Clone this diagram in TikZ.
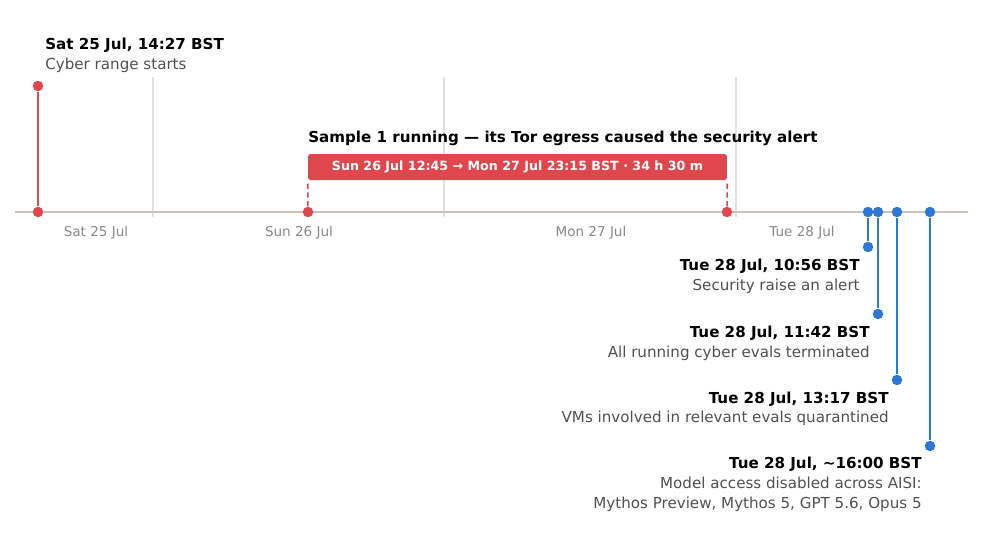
\documentclass[tikz,border=0pt]{standalone}
\usepackage{fontspec}
\setmainfont{DejaVu Sans}
\definecolor{alertred}{HTML}{E0474C}
\definecolor{evblue}{HTML}{2D77D6}
\definecolor{axisgray}{HTML}{C8C4B8}
\definecolor{gridgray}{HTML}{E2E0DA}
\definecolor{desctext}{HTML}{505050}
\definecolor{ticktext}{HTML}{888888}

\begin{document}
\begin{tikzpicture}[x=0.02cm,y=-0.02cm,
  evdot/.style={circle,inner sep=0pt,minimum size=0.21cm,fill=#1},
  stem/.style={line width=1.1pt,#1},
  head/.style={inner sep=0pt,font=\fontsize{8.6}{10}\selectfont\bfseries,text=black},
  desc/.style={inner sep=0pt,font=\fontsize{8.6}{11.35}\selectfont,text=desctext},
  daylbl/.style={inner sep=0pt,anchor=base,font=\fontsize{7.7}{9}\selectfont,text=ticktext},
  gridline/.style={gridgray,line width=0.6pt}]
\useasboundingbox (0,0) rectangle (1000,548);
\draw [gridline] (153,77) -- (153,217);
\draw [gridline] (444,77) -- (444,217);
\draw [gridline] (736,77) -- (736,217);
\draw [axisgray,line width=1.2pt] (15,212) -- (968,212);
\node[daylbl] (sat) at (96,236) {Sat 25 Jul};
\node[daylbl] (sun) at (299,236) {Sun 26 Jul};
\node[daylbl] (mon) at (591,236) {Mon 27 Jul};
\node[daylbl] (tue) at (802,236) {Tue 28 Jul};
\node[evdot=alertred] (r0) at (38,212) {};
\node[evdot=alertred] (r0top) at (38,86) {};
\draw [stem=alertred] (r0) -- (r0top);
\node[head,anchor=base west] (r0t) at (45,49) {Sat 25 Jul, 14:27 BST};
\node[desc,anchor=base west] (r0d) at (45,69) {Cyber range starts};
\node[fill=alertred,rounded corners=1.5pt,inner sep=0pt,minimum width=8.38cm,minimum height=0.52cm,
  text=white,font=\fontsize{7.2}{9}\selectfont\bfseries] (run) at (517.5,167) {Sun 26 Jul 12:45 → Mon 27 Jul 23:15 BST · 34 h 30 m};
\node[head,anchor=base west] (runt) at (308,142.5) {Sample 1 running — its Tor egress caused the security alert};
\node[evdot=alertred] (r1) at (308,212) {};
\node[evdot=alertred] (r2) at (727,212) {};
\draw [alertred,line width=0.9pt,dash pattern=on 3pt off 2pt] (r1) -- (run.south west);
\draw [alertred,line width=0.9pt,dash pattern=on 3pt off 2pt] (r2) -- (run.south east);
\node[evdot=evblue] (b1) at (868,212) {};
\node[evdot=evblue] (b1e) at (868,247) {};
\node[evdot=evblue] (b2) at (878,212) {};
\node[evdot=evblue] (b2e) at (878,314) {};
\node[evdot=evblue] (b3) at (897,212) {};
\node[evdot=evblue] (b3e) at (897,380) {};
\node[evdot=evblue] (b4) at (930,212) {};
\node[evdot=evblue] (b4e) at (930,446) {};
\draw [stem=evblue] (b1) -- (b1e);
\draw [stem=evblue] (b2) -- (b2e);
\draw [stem=evblue] (b3) -- (b3e);
\draw [stem=evblue] (b4) -- (b4e);
\node[head,anchor=base east] (b1t) at (860,270) {Tue 28 Jul, 10:56 BST};
\node[desc,anchor=base east] (b1d) at (860,290.5) {Security raise an alert};
\node[head,anchor=base east] (b2t) at (870,337) {Tue 28 Jul, 11:42 BST};
\node[desc,anchor=base east] (b2d) at (870,357) {All running cyber evals terminated};
\node[head,anchor=base east] (b3t) at (889,403) {Tue 28 Jul, 13:17 BST};
\node[desc,anchor=base east] (b3d) at (889,422.5) {VMs involved in relevant evals quarantined};
\node[head,anchor=base east] (b4t) at (922,468.5) {Tue 28 Jul, \textasciitilde16:00 BST};
\node[desc,anchor=base east,align=right] (b4d) at (922,508.5) {Model access disabled across AISI:\\Mythos Preview, Mythos 5, GPT 5.6, Opus 5};
\end{tikzpicture}
\end{document}
